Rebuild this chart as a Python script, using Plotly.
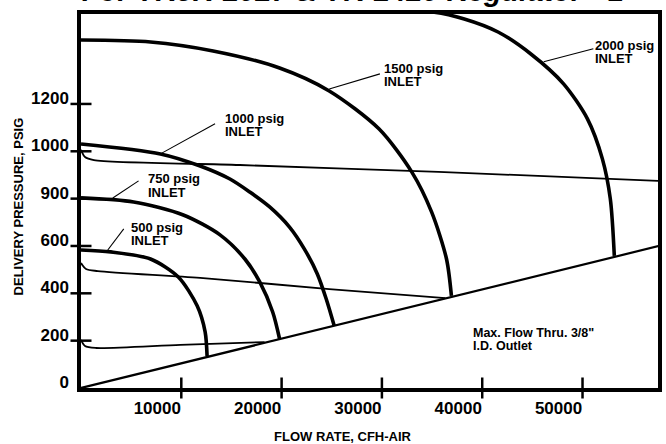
import plotly.graph_objects as go

# ---------------- data ----------------
# Inlet curves: flow (CFH-air) vs delivery pressure (linear axis units)
flow_500 = [0, 2970, 6930, 9700, 11580, 12375, 12570]
pres_500 = [583, 575, 545, 469, 347, 237, 135]

flow_750 = [0, 5250, 10200, 13860, 16340, 17820, 19110, 19800]
pres_750 = [803, 786, 731, 647, 545, 448, 321, 207]

flow_1000 = [0, 7920, 11880, 14850, 16830, 18810, 20790, 22275, 23560, 24450, 25250]
pres_1000 = [1031, 989, 938, 883, 828, 765, 680, 587, 482, 376, 262]

flow_1500 = [0, 6930, 13170, 19800, 24750, 29700, 32970, 34950, 36440, 36930]
pres_1500 = [1470, 1462, 1424, 1352, 1255, 1095, 913, 744, 545, 389]

flow_2000 = [0, 15000, 29700, 34950, 38210, 41580, 44850, 48110, 50490, 51980, 52770, 53170]
pres_2000 = [1665, 1650, 1593, 1589, 1559, 1504, 1411, 1285, 1137, 968, 799, 558]

# thin droop lines
flow_droop_a = [0, 400, 1500, 9900, 18300]
pres_droop_a = [203, 177, 169, 182, 194]

flow_droop_b = [0, 500, 1680, 11880, 24750, 36330]
pres_droop_b = [528, 503, 494, 465, 418, 380]

flow_droop_c = [0, 400, 1290, 15840, 35640, 57620]
pres_droop_c = [1006, 976, 963, 942, 913, 875]

# max flow line through 3/8" I.D. outlet
flow_max = [0, 57620]
pres_max = [0, 600]

# axes
x_tickvals = [10000, 20000, 30000, 40000, 50000]
x_ticktext = ["10000", "20000", "30000", "40000", "50000"]
y_tickvals = [0, 200, 400, 600, 800, 1000, 1200]
y_ticktext = ["0", "200", "400", "600", "900", "1000", "1200"]
x_range = [0, 57525]
y_range = [0, 1580]

# labels: (line1, line2, x_left, y_line1, y_line2, leader_x0, leader_y0, leader_x1, leader_y1)
labels = [
    ("2000 psig", "INLET", 51080, 1449, 1390, 46130, 1378, 51080, 1433),
    ("1500 psig", "INLET", 30000, 1348, 1293, 24750, 1263, 29800, 1327),
    ("1000 psig", "INLET", 14160, 1137, 1082, 7920, 989, 13365, 1116),
    ("750 psig", "INLET", 6435, 883, 824, 3170, 803, 5740, 875),
    ("500 psig", "INLET", 4750, 680, 625, 2670, 583, 4260, 672),
]
note_lines = ['Max. Flow Thru. 3/8"', "I.D. Outlet"]
note_pos = (38900, 232, 177)

# ---------------- figure ----------------
FONT = "Liberation Sans, Arial, sans-serif"
fig = go.Figure()

def add_line(x, y, w, shape="spline"):
    fig.add_trace(go.Scatter(x=x, y=y, mode="lines",
                             line=dict(color="black", width=w, shape=shape, smoothing=0.8),
                             hoverinfo="skip", showlegend=False))

add_line(flow_max, pres_max, 2.2, "linear")
add_line(flow_droop_a, pres_droop_a, 1.8)
add_line(flow_droop_b, pres_droop_b, 1.8)
add_line(flow_droop_c, pres_droop_c, 1.8)
for fx, py in [(flow_500, pres_500), (flow_750, pres_750), (flow_1000, pres_1000),
               (flow_1500, pres_1500), (flow_2000, pres_2000)]:
    add_line(fx, py, 3.6)

# tick marks crossing the axes
fig.add_trace(go.Scatter(x=[0] * (len(y_tickvals) - 1), y=y_tickvals[1:], mode="markers",
                         marker=dict(symbol="line-ew", size=15, line=dict(color="black", width=2.5)),
                         cliponaxis=False, hoverinfo="skip", showlegend=False))
fig.add_trace(go.Scatter(x=x_tickvals, y=[0] * len(x_tickvals), mode="markers",
                         marker=dict(symbol="line-ns", size=15, line=dict(color="black", width=2.5)),
                         cliponaxis=False, hoverinfo="skip", showlegend=False))

ann = []
shapes = []
for l1, l2, xl, y1, y2, lx0, ly0, lx1, ly1 in labels:
    for txt, yy in ((l1, y1), (l2, y2)):
        ann.append(dict(x=xl, y=yy, xref="x", yref="y", text=txt, showarrow=False,
                        xanchor="left", yanchor="middle",
                        font=dict(family=FONT, size=13, color="black", weight="bold")))
    shapes.append(dict(type="line", xref="x", yref="y", x0=lx0, y0=ly0, x1=lx1, y1=ly1,
                       line=dict(color="black", width=1.1)))

nx, ny1, ny2 = note_pos
for txt, yy in ((note_lines[0], ny1), (note_lines[1], ny2)):
    ann.append(dict(x=nx, y=yy, xref="x", yref="y", text=txt, showarrow=False,
                    xanchor="left", yanchor="middle",
                    font=dict(family=FONT, size=12.5, color="black", weight="bold")))

# axis titles and cut-off heading (positions in page pixels, converted below)
ann.append(dict(x=345, y=436, xref="paper", yref="paper", text="FLOW RATE, CFH-AIR", showarrow=False,
                xanchor="center", yanchor="middle",
                font=dict(family=FONT, size=13, color="black", weight="bold")))
ann.append(dict(x=18, y=206, xref="paper", yref="paper", text="DELIVERY PRESSURE, PSIG",
                showarrow=False, textangle=-90, xanchor="center", yanchor="middle",
                font=dict(family=FONT, size=13, color="black", weight="bold")))
ann.append(dict(x=80, y=9, xref="paper", yref="paper",
                text="For YR5K-2027 & YR-2420 Regulator - 1", showarrow=False,
                xanchor="left", yanchor="bottom",
                font=dict(family=FONT, size=29, color="black", weight="bold", style="italic")))

W, H = 666, 444
L, R, T, B = 81, 4, 14, 56
pw, ph = W - L - R, H - T - B
for a in ann:
    if a["xref"] == "paper":
        a["x"] = (a["x"] - L) / pw
        a["y"] = (H - B - a["y"]) / ph

fig.update_layout(
    width=W, height=H,
    margin=dict(l=L, r=R, t=T, b=B),
    paper_bgcolor="white", plot_bgcolor="white",
    annotations=ann, shapes=shapes,
    xaxis=dict(range=x_range, tickvals=x_tickvals, ticktext=x_ticktext,
               showgrid=False, zeroline=False, showline=True, mirror=True,
               linecolor="black", linewidth=3.5, ticks="",
               ticklabelstandoff=2, ticklabelshift=-24,
               tickfont=dict(family=FONT, size=17, color="black", weight="bold")),
    yaxis=dict(range=y_range, tickvals=y_tickvals, ticktext=y_ticktext,
               showgrid=False, zeroline=False, showline=True, mirror=True,
               linecolor="black", linewidth=3.5, ticks="",
               ticklabelstandoff=5, ticklabelshift=-6,
               tickfont=dict(family=FONT, size=17, color="black", weight="bold")),
)

fig.write_html("out.html", config={"displayModeBar": False},
               post_script="document.body.style.margin='0';")
